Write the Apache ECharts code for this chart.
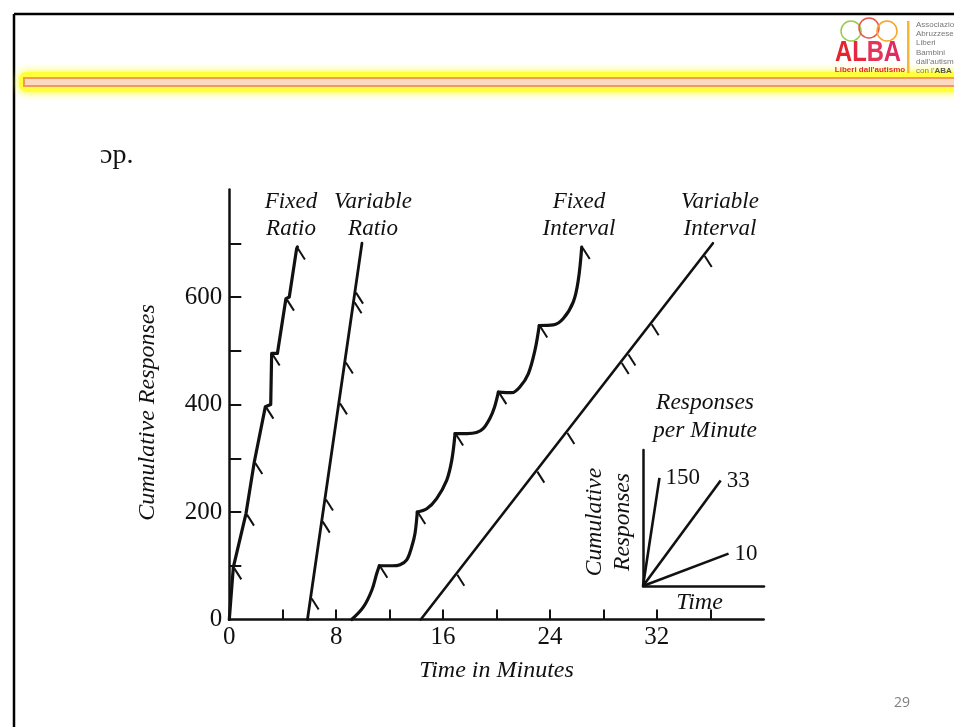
<!DOCTYPE html>
<html><head><meta charset="utf-8">
<script src="https://cdn.jsdelivr.net/npm/echarts@6/dist/echarts.min.js"></script>
<style>html,body{margin:0;padding:0;background:#fff}#c{width:954px;height:727px}</style>
</head><body><div id="c"></div>
<script>
// ---- axis ticks / labels ----
const xTickValues = [4, 8, 12, 16, 20, 24, 28, 32, 36];
const xLabelValues = [0, 8, 16, 24, 32];
const yTickValues = [100, 200, 300, 400, 500, 600, 700];
const yLabelValues = [0, 200, 400, 600];

// ---- cumulative records (minutes, cumulative responses) ----
const fixedRatio = [[0,0],[0.3,97],[1.25,197],[1.87,293],[2.7,396],[3.1,400],[3.17,495],[3.6,495],[4.24,597],[4.49,600],[5.04,690],[5.1,693]];
const fixedRatioReinf = [[0.3,97],[1.25,197],[1.87,293],[2.7,396],[3.17,495],[4.24,597],[5.06,692]];

const variableRatio = [[5.85,0],[9.93,700]];
const variableRatioReinf = [[6.09,41],[6.92,184],[7.16,225],[8.21,404],[8.65,480],[9.30,592],[9.41,610]];

const fiScallop1 = [[9.16,0],[10.03,23],[10.66,54],[11.03,85],[11.23,100]];
const fiScallop2 = [[11.23,100],[12.2,100],[12.78,102],[13.28,111],[13.65,135],[13.9,160],[14.07,200]];
const fiScallop3 = [[14.07,200],[14.78,206],[15.52,225],[16.27,259],[16.65,296],[16.9,346]];
const fiScallop4 = [[16.9,346],[17.8,346],[18.5,348],[19.0,355],[19.5,374],[19.85,395],[20.14,423]];
const fiScallop5 = [[20.14,423],[21.14,422],[21.76,433],[22.38,457],[22.88,501],[23.2,547]];
const fiScallop6 = [[23.2,547],[24.25,548],[25.0,560],[25.75,591],[26.12,631],[26.38,693]];
const fixedIntervalReinf = [[11.23,100],[14.07,200],[16.9,346],[20.14,423],[23.2,547],[26.38,693]];

const variableInterval = [[14.33,0],[36.2,700]];
const variableIntervalReinf = [[16.99,85],[22.98,277],[25.23,349],[29.3,479],[29.8,495],[31.54,551],[35.51,678]];

const scheduleNames = ['Fixed\nRatio', 'Variable\nRatio', 'Fixed\nInterval', 'Variable\nInterval'];

// ---- inset: responses per minute ----
const insetRates = ['150', '33', '10'];
const insetEnds = [[1.36,7.95],[6.42,7.75],[7.07,2.38]];

const INK = '#111';
const SERIF = '"Liberation Serif", "DejaVu Serif", serif';

const chart = echarts.init(document.getElementById('c'), null, {renderer: 'canvas'});

function recordLine(data, width, smooth) {
  return {type: 'line', xAxisIndex: 0, yAxisIndex: 0, data, showSymbol: false, symbol: 'none',
    smooth: smooth || false, lineStyle: {color: INK, width: width, cap: 'round', join: 'round'},
    silent: true, z: 4, clip: false};
}
function hashSeries(data) {
  return {type: 'custom', xAxisIndex: 0, yAxisIndex: 0, data, z: 5, silent: true, clip: false,
    renderItem(params, api) {
      const p = api.coord([api.value(0), api.value(1)]);
      return {type: 'line', shape: {x1: p[0] + 1, y1: p[1] + 1, x2: p[0] + 8, y2: p[1] + 12},
        style: {stroke: INK, lineWidth: 2}};
    }};
}

const series = [
  recordLine(fixedRatio, 3.2),
  hashSeries(fixedRatioReinf),
  recordLine(variableRatio, 2.8),
  hashSeries(variableRatioReinf),
  recordLine(fiScallop1, 3.2, 0.35),
  recordLine(fiScallop2, 3.2, 0.35),
  recordLine(fiScallop3, 3.2, 0.35),
  recordLine(fiScallop4, 3.2, 0.35),
  recordLine(fiScallop5, 3.2, 0.35),
  recordLine(fiScallop6, 3.2, 0.35),
  hashSeries(fixedIntervalReinf),
  recordLine(variableInterval, 2.6),
  hashSeries(variableIntervalReinf)
];
insetRates.forEach((r, i) => {
  series.push({type: 'line', xAxisIndex: 1, yAxisIndex: 1, data: [[0, 0], insetEnds[i]],
    showSymbol: false, symbol: 'none', silent: true, lineStyle: {color: INK, width: 2.6},
    endLabel: {show: true, formatter: r, distance: 6, color: INK, fontFamily: SERIF, fontSize: 23}});
});

const labelPos = [[291, 215], [373, 215], [579, 215], [720, 215]];
const scheduleTexts = scheduleNames.map((n, i) => ({
  type: 'text', x: labelPos[i][0], y: labelPos[i][1],
  style: {text: n, fill: INK, font: 'italic 23px ' + SERIF, align: 'center', verticalAlign: 'middle', lineHeight: 27}
}));

const LOGO_FONT = 'bold 29px "Liberation Sans", sans-serif';
const graphic = [
  // slide frame
  {type: 'line', shape: {x1: 14, y1: 14, x2: 954, y2: 14}, style: {stroke: '#000', lineWidth: 2.5}},
  {type: 'line', shape: {x1: 14, y1: 14, x2: 14, y2: 727}, style: {stroke: '#000', lineWidth: 2.5}},
  // glowing header bar
  {type: 'rect', shape: {x: 19, y: 72, width: 945, height: 20, r: 7},
    style: {fill: '#ffff3c', shadowBlur: 9, shadowColor: '#ffff00'}},
  {type: 'rect', shape: {x: 24, y: 78, width: 935, height: 8},
    style: {fill: '#fcd9c0', stroke: '#f29a5c', lineWidth: 2}},
  // logo
  {type: 'circle', shape: {cx: 851, cy: 31, r: 10}, style: {fill: 'none', stroke: '#9bc94a', lineWidth: 1.5}},
  {type: 'circle', shape: {cx: 869, cy: 28, r: 10}, style: {fill: 'none', stroke: '#e8534a', lineWidth: 1.5}},
  {type: 'circle', shape: {cx: 887, cy: 31, r: 10}, style: {fill: 'none', stroke: '#f5a623', lineWidth: 1.5}},
  {type: 'text', x: 835, y: 53, scaleX: 0.82,
    style: {text: '{a|A}{b|L}{c|B}{d|A}', verticalAlign: 'middle',
      rich: {a: {fill: '#e3262e', font: LOGO_FONT},
             b: {fill: '#e4283f', font: LOGO_FONT},
             c: {fill: '#e6335a', font: LOGO_FONT},
             d: {fill: '#e02a60', font: LOGO_FONT}}}},
  {type: 'text', x: 870, y: 70, style: {text: "Liberi dall'autismo", fill: '#e2262e', font: 'bold 8px "Liberation Sans", sans-serif', align: 'center', verticalAlign: 'middle'}},
  {type: 'rect', shape: {x: 907, y: 21, width: 2.5, height: 52}, style: {fill: '#f7b733'}},
  {type: 'text', x: 916, y: 20, style: {text: "Associazione\nAbruzzese\nLiberi\nBambini\ndall'autismo\ncon l'{b|ABA}", fill: '#777', font: '8px "Liberation Sans", sans-serif', lineHeight: 9.3, verticalAlign: 'top',
    rich: {b: {fill: '#555', font: 'bold 8px "Liberation Sans", sans-serif'}}}},
  // scan fragment (top of line cut off by the scan edge)
  {type: 'text', x: 100, y: 156, style: {text: 'ɔp.', fill: INK, font: '28px ' + SERIF, verticalAlign: 'middle'}},
  {type: 'rect', shape: {x: 95, y: 130, width: 80, height: 18}, style: {fill: '#fff'}, z: 10},
  // inset title
  {type: 'text', x: 705, y: 417, style: {text: 'Responses\nper Minute', fill: INK, font: 'italic 23.5px ' + SERIF, align: 'center', verticalAlign: 'middle', lineHeight: 28}},
  // page number
  {type: 'text', x: 902, y: 703, style: {text: '29', fill: '#7f7f7f', font: '14px "Open Sans", "Liberation Sans", sans-serif', align: 'center', verticalAlign: 'middle'}}
].concat(scheduleTexts);

const nameStyle = {color: INK, fontFamily: SERIF, fontStyle: 'italic', fontSize: 24};

chart.setOption({
  animation: false,
  backgroundColor: '#fff',
  grid: [
    {left: 229.3, top: 189.5, width: 534.4, height: 430},
    {left: 643, top: 450, width: 121, height: 136}
  ],
  xAxis: [
    {type: 'value', gridIndex: 0, min: 0, max: 40, interval: 4,
      axisLine: {show: true, onZero: false, lineStyle: {color: INK, width: 2.5}},
      axisTick: {show: true, inside: true, length: 10, customValues: xTickValues, lineStyle: {color: INK, width: 2}},
      axisLabel: {customValues: xLabelValues, color: INK, fontFamily: SERIF, fontSize: 25, margin: 5,
        formatter: v => (v % 8 === 0 && v <= 32) ? String(v) : ''},
      splitLine: {show: false},
      name: 'Time in Minutes', nameLocation: 'middle', nameGap: 39, nameTextStyle: nameStyle},
    {type: 'value', gridIndex: 1, min: 0, max: 10,
      axisLine: {show: true, onZero: false, lineStyle: {color: INK, width: 2.5}},
      axisTick: {show: false}, axisLabel: {show: false}, splitLine: {show: false},
      name: 'Time', nameLocation: 'middle', nameGap: 5, nameTextStyle: Object.assign({}, nameStyle, {fontSize: 24, verticalAlign: 'top', padding: [0, 8, 0, 0]})}
  ],
  yAxis: [
    {type: 'value', gridIndex: 0, min: 0, max: 800, interval: 100,
      axisLine: {show: true, onZero: false, lineStyle: {color: INK, width: 2.5}},
      axisTick: {show: true, inside: true, length: 12, customValues: yTickValues, lineStyle: {color: INK, width: 2}},
      axisLabel: {customValues: yLabelValues, color: INK, fontFamily: SERIF, fontSize: 25, margin: 7,
        formatter: v => (v % 200 === 0 && v <= 600) ? String(v) : ''},
      splitLine: {show: false},
      name: 'Cumulative Responses', nameLocation: 'middle', nameRotate: 90, nameGap: 70,
      nameTextStyle: Object.assign({}, nameStyle, {padding: [0, 16, 0, 0]})},
    {type: 'value', gridIndex: 1, min: 0, max: 10,
      axisLine: {show: true, onZero: false, lineStyle: {color: INK, width: 2.5}},
      axisTick: {show: false}, axisLabel: {show: false}, splitLine: {show: false},
      name: 'Cumulative\nResponses', nameLocation: 'middle', nameRotate: 90, nameGap: 6,
      nameTextStyle: Object.assign({}, nameStyle, {fontSize: 23.5, lineHeight: 28, padding: [0, 8, 0, 0]})}
  ],
  series,
  graphic
});
</script></body></html>
